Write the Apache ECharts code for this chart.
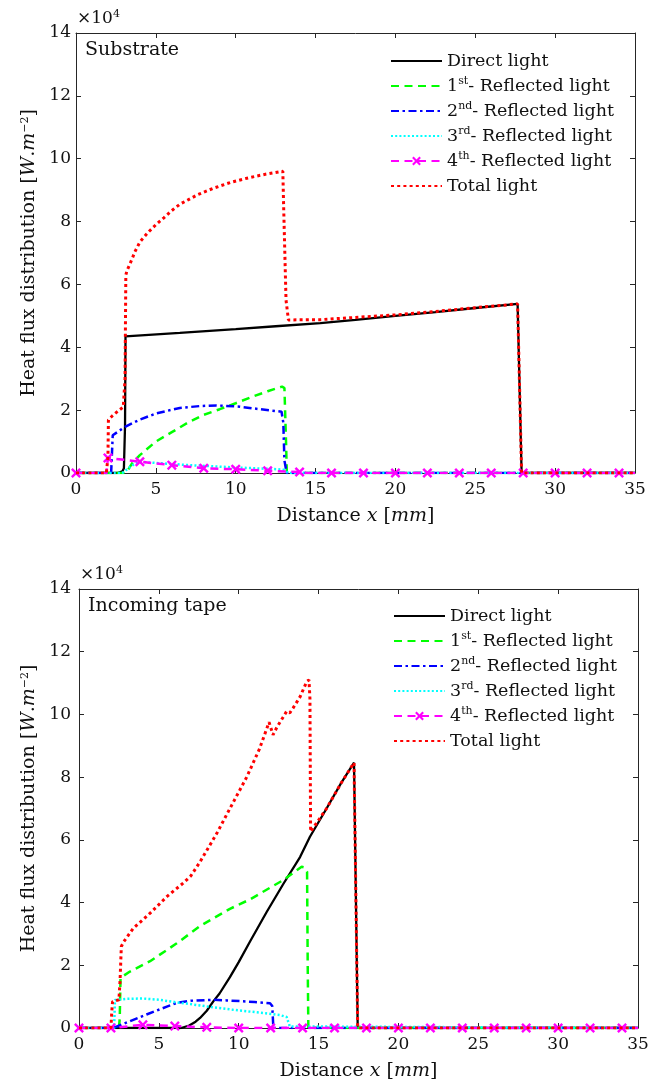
<!DOCTYPE html>
<html><head><meta charset="utf-8">
<script src="https://cdn.jsdelivr.net/npm/echarts@6/dist/echarts.min.js"></script>
<style>html,body{margin:0;padding:0;background:#fff}#c{width:659px;height:1085px}</style>
</head><body><div id="c"></div>
<script>
// ---------- data (x in mm, y in 10^4 W/m^2) ----------
const xRange = [0, 35], xStep = 5;
const yRange = [0, 14], yStep = 2;
const seriesNames = ['Direct light', '1st- Reflected light', '2nd- Reflected light', '3rd- Reflected light', '4th- Reflected light', 'Total light'];
const panelTitles = ['Substrate', 'Incoming tape'];

// Substrate panel
const subDirect = [[0,0],[2.6,0],[2.9,0.05],[3.0,0.15],[3.07,1.5],[3.1,4.35],[6.5,4.46],[10,4.58],[12.5,4.67],[15.3,4.77],[17.5,4.87],[20,5.0],[22.5,5.12],[25,5.25],[27.65,5.38],[27.9,0],[35,0]];
const sub1st = [[0,0],[3.05,0],[3.2,0.05],[3.5,0.3],[4.0,0.57],[5.0,1.0],[6.0,1.3],[7.0,1.6],[8.0,1.85],[9.0,2.03],[10.0,2.22],[11.0,2.42],[12.0,2.6],[12.9,2.75],[13.05,2.7],[13.15,1.0],[13.2,0],[35,0]];
const sub2nd = [[0,0],[2.2,0],[2.25,0.6],[2.3,1.2],[3.07,1.47],[4.0,1.7],[5.05,1.9],[6.5,2.07],[7.76,2.13],[8.8,2.15],[10.27,2.11],[11.5,2.03],[12.87,1.95],[12.98,1.6],[13.05,0.4],[13.19,0],[35,0]];
const sub3rd = [[0,0],[2.9,0],[3.1,0.08],[3.4,0.2],[3.7,0.3],[4.2,0.35],[5.0,0.32],[7.1,0.25],[10.3,0.17],[12.6,0.12],[13.0,0.1],[13.3,0],[35,0]];
const sub4th = [[0,0],[1.9,0],[2,0.48],[4,0.36],[6,0.25],[8,0.15],[10,0.12],[12,0.07],[14,0.03],[14.5,0],[16,0],[18,0],[20,0],[22,0],[24,0],[26,0],[28,0],[30,0],[32,0],[34,0],[35,0]];
const subTotal = [[0,0],[1.9,0],[2.0,0.5],[2.03,1.69],[2.3,1.83],[2.7,2.0],[2.96,2.1],[3.07,3.0],[3.12,6.3],[3.2,6.45],[3.35,6.62],[3.5,6.8],[3.7,7.05],[4.0,7.35],[4.5,7.65],[5.0,7.9],[5.5,8.12],[6.0,8.35],[6.5,8.55],[7.6,8.85],[8.6,9.06],[9.7,9.25],[10.7,9.38],[11.8,9.5],[12.8,9.59],[12.95,9.6],[13.0,8.5],[13.15,5.5],[13.3,4.87],[15.3,4.88],[17.5,4.95],[20,5.03],[22.5,5.14],[25,5.26],[27.65,5.38],[27.9,0],[35,0]];

// Incoming tape panel
const tapeDirect = [[0,0],[6.4,0],[6.9,0.08],[7.3,0.2],[7.58,0.32],[8.0,0.55],[8.41,0.85],[8.8,1.1],[9.45,1.62],[10.0,2.1],[10.7,2.75],[11.75,3.7],[12.8,4.6],[13.84,5.45],[14.46,6.1],[15.5,7.0],[16.4,7.8],[17.22,8.46],[17.3,8.5],[17.45,0],[35,0]];
const tape1st = [[0,0],[2.5,0],[2.55,0.3],[2.6,1.6],[3.19,1.8],[4.45,2.13],[6.12,2.7],[7.58,3.25],[9.45,3.8],[10.7,4.1],[12.8,4.72],[13.94,5.14],[14.1,5.12],[14.28,4.98],[14.32,2],[14.36,0],[35,0]];
const tape2nd = [[0,0],[2.15,0],[3.4,0.26],[4.23,0.43],[5.5,0.68],[6.12,0.8],[7.0,0.87],[8.41,0.9],[9.25,0.88],[11.0,0.83],[11.96,0.79],[12.1,0.7],[12.17,0],[35,0]];
const tape3rd = [[0,0],[2.2,0],[2.25,0.89],[3.0,0.93],[4.0,0.94],[5.0,0.9],[6.1,0.82],[7.58,0.72],[8.4,0.66],[9.65,0.58],[11.7,0.47],[12.6,0.41],[13.0,0.35],[13.2,0.05],[13.3,0],[35,0]];
const tape4th = [[0,0],[2,0],[4,0.1],[6,0.06],[8,0.02],[10,0],[12,0],[14,0],[16,0],[18,0],[20,0],[22,0],[24,0],[26,0],[28,0],[30,0],[32,0],[34,0],[35,0]];
const tapeTotal = [[0,0],[2.0,0],[2.05,0.5],[2.1,0.84],[2.5,0.9],[2.57,1.5],[2.65,2.6],[2.8,2.75],[3.4,3.18],[4.45,3.66],[5.5,4.19],[6.5,4.61],[7.0,4.85],[7.58,5.3],[8.62,6.2],[9.45,7.0],[10.5,8.0],[11.3,8.9],[11.9,9.75],[12.0,9.7],[12.15,9.35],[12.4,9.6],[12.8,9.93],[13.0,10.1],[13.2,10.05],[13.4,10.2],[13.84,10.56],[14.26,11.05],[14.4,11.1],[14.46,10.5],[14.5,6.26],[15.5,7.0],[16.4,7.8],[17.22,8.46],[17.3,8.5],[17.45,0],[35,0]];

const panels = [
  [subDirect, sub1st, sub2nd, sub3rd, sub4th, subTotal],
  [tapeDirect, tape1st, tape2nd, tape3rd, tape4th, tapeTotal]
];

// ---------- styles ----------
const FONT = 'DejaVu Serif';
const TXT = '#111';
const AX = '#262626';
const XMARK = 'path://M0,1.7L1.7,0L5,3.3L8.3,0L10,1.7L6.7,5L10,8.3L8.3,10L5,6.7L1.7,10L0,8.3L3.3,5Z';
const styles = [
  {color:'#000000', width:2.3, type:'solid'},
  {color:'#00ff00', width:2.5, type:[8,5.5]},
  {color:'#0000ff', width:2.5, type:[8,3.5,2.5,3.5]},
  {color:'#00ffff', width:2.5, type:[2,2.2]},
  {color:'#ff00ff', width:2.5, type:[8,5.5]},
  {color:'#ff0000', width:3, type:[3,3.2]}
];
const layout = [
  {left:76, top:33, width:559, height:440, yMargin:5, legendLeft:390, legendTop:51, titleLeft:85, titleTop:39, expLeft:77, expTop:9},
  {left:79, top:589, width:559, height:439, yMargin:8, legendLeft:393, legendTop:606, titleLeft:88, titleTop:595, expLeft:80, expTop:565}
];

const supRich = {
  sup: {fontSize: 11, fontFamily: FONT, color: TXT, verticalAlign: 'top', lineHeight: 12},
  i: {fontStyle: 'italic', fontFamily: FONT, color: TXT, fontSize: 19}
};

const grids = [], xAxes = [], yAxes = [], series = [], legends = [], titles = [];
layout.forEach((L, g) => {
  grids.push({left:L.left, top:L.top, width:L.width, height:L.height, containLabel:false, outerBoundsMode:'none'});
  const baseX = {gridIndex:g, type:'value', min:xRange[0], max:xRange[1], interval:xStep,
    axisLine:{show:true, onZero:false, lineStyle:{color:AX, width:1}},
    axisTick:{show:true, inside:true, length:5, lineStyle:{color:AX}},
    splitLine:{show:false}};
  xAxes.push(Object.assign({}, baseX, {position:'bottom',
    axisLabel:{fontFamily:FONT, fontSize:17, color:TXT, margin:8},
    name:'Distance {i|x} [{i|mm}]', nameLocation:'middle', nameGap:34,
    nameTextStyle:{fontFamily:FONT, fontSize:19, color:TXT, rich:supRich}}));
  xAxes.push(Object.assign({}, baseX, {position:'top', axisLabel:{show:false}}));
  const baseY = {gridIndex:g, type:'value', min:yRange[0], max:yRange[1], interval:yStep,
    axisLine:{show:true, onZero:false, lineStyle:{color:AX, width:1}},
    axisTick:{show:true, inside:true, length:5, lineStyle:{color:AX}},
    splitLine:{show:false}};
  yAxes.push(Object.assign({}, baseY, {position:'left',
    axisLabel:{fontFamily:FONT, fontSize:17, color:TXT, margin:L.yMargin},
    name:'Heat flux distribution [{i|W}.{i|m}{sup|−2}]', nameLocation:'middle', nameGap:36, nameRotate:90,
    nameTextStyle:{fontFamily:FONT, fontSize:19, color:TXT, rich:supRich}}));
  yAxes.push(Object.assign({}, baseY, {position:'right', axisLabel:{show:false}}));

  panels[g].forEach((pts, k) => {
    const st = styles[k];
    const isMarker = k === 4;
    const data = pts.map(p => {
      if (!isMarker) return p;
      const onMark = Number.isInteger(p[0]) && p[0] % 2 === 0;
      return onMark ? {value:p} : {value:p, symbol:'none'};
    });
    series.push({
      name: seriesNames[k], type:'line', xAxisIndex:2*g, yAxisIndex:2*g,
      data, symbol: isMarker ? XMARK : 'none', symbolSize: 10, showSymbol: isMarker,
      itemStyle:{color:st.color, borderWidth:0},
      lineStyle:{color:st.color, width:st.width, type:st.type},
      emphasis:{disabled:true}, silent:true, z: 2 + k, animation:false
    });
  });

  legends.push({
    left:L.legendLeft, top:L.legendTop, orient:'vertical', padding:0, itemGap:5,
    itemWidth:51, itemHeight:11, selectedMode:false,
    data: seriesNames.map((n, k) => k === 4 ? {name:n} : {name:n, itemStyle:{opacity:0}}),
    formatter: n => n.replace(/^(\d)(st|nd|rd|th)/, '$1{sup|$2}'),
    textStyle:{fontFamily:FONT, fontSize:17.5, color:TXT, lineHeight:20,
      rich:{sup:{fontSize:11, fontFamily:FONT, color:TXT, verticalAlign:'top', lineHeight:12}}}
  });
  titles.push({text:panelTitles[g], left:L.titleLeft, top:L.titleTop, padding:0,
    textStyle:{fontFamily:FONT, fontSize:19, fontWeight:'normal', color:TXT, lineHeight:22}});
  titles.push({text:'×10{sup|4}', left:L.expLeft, top:L.expTop, padding:0,
    textStyle:{fontFamily:FONT, fontSize:17, fontWeight:'normal', color:TXT, lineHeight:20,
      rich:{sup:{fontSize:11, fontFamily:FONT, color:TXT, verticalAlign:'top', lineHeight:12}}}});
});

const chart = echarts.init(document.getElementById('c'), null, {renderer:'canvas'});
chart.setOption({
  animation:false, backgroundColor:'#ffffff',
  title:titles, grid:grids, xAxis:xAxes, yAxis:yAxes, legend:legends, series
});
</script></body></html>
